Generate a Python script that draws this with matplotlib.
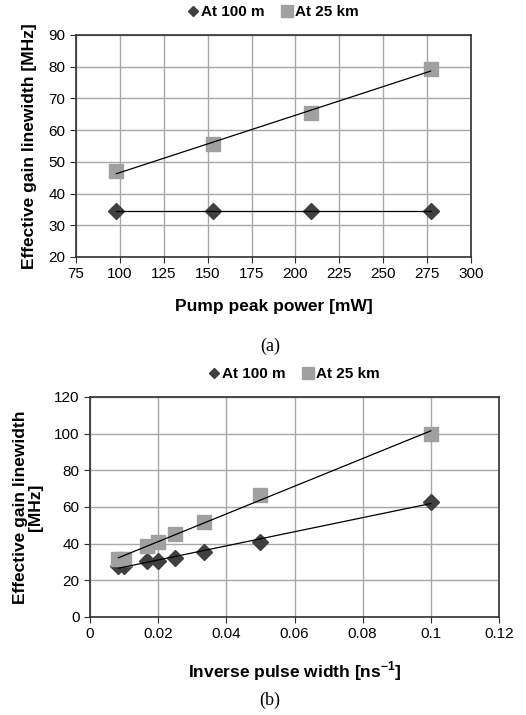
import numpy as np
import matplotlib
matplotlib.use('Agg')
import matplotlib.pyplot as plt

plt.rcParams['font.family'] = ['Liberation Sans', 'DejaVu Sans']
plt.rcParams['mathtext.fontset'] = 'custom'
plt.rcParams['mathtext.bf'] = 'Liberation Sans:bold'
plt.rcParams['mathtext.rm'] = 'Liberation Sans'

# (a) pump peak power
power_mw = [98, 153, 209, 277]
a_100m = [34.5, 34.5, 34.5, 34.5]
a_25km = [47, 55.7, 65.3, 79.4]

# (b) inverse pulse width
inv_width = [1/120, 1/100, 1/60, 1/50, 1/40, 1/30, 1/20, 1/10]
b_100m = [28, 27.8, 30.5, 30.8, 32, 35.5, 41, 63]
b_25km = [31.5, 31.5, 39, 41, 45.5, 52, 66.5, 100]

dark = '#404040'
light = '#a0a0a0'

fig = plt.figure(figsize=(5.26, 7.15), dpi=100)
W, H = 526, 715

def box(l, t, r, b):
    return [l / W, 1 - b / H, (r - l) / W, (b - t) / H]

def style(ax):
    ax.grid(True, color='#a8a8a8', linewidth=1)
    ax.set_axisbelow(True)
    for s in ax.spines.values():
        s.set_color('#303030')
        s.set_linewidth(1.2)
    ax.tick_params(labelsize=11, length=4, color='#303030', direction='out')

def trend(ax, x, y):
    k, c = np.polyfit(x, y, 1)
    xs = np.array([min(x), max(x)])
    ax.plot(xs, k * xs + c, color='black', linewidth=0.9, zorder=4)

def legend(ax):
    h1 = plt.Line2D([], [], marker='D', color=dark, linestyle='none', markersize=5)
    h2 = plt.Line2D([], [], marker='s', color=light, linestyle='none', markersize=9)
    ax.legend([h1, h2], ['At 100 m', 'At 25 km'], loc='lower center',
              bbox_to_anchor=(0.5, 1.01), ncol=2, frameon=False, handlelength=0.6,
              handletextpad=0.2, columnspacing=1.2, prop={'weight': 'bold', 'size': 11})

# ---- (a)
ax1 = fig.add_axes(box(76, 35, 471, 257))
style(ax1)
ax1.plot(power_mw, a_100m, marker='D', color=dark, markersize=8, linestyle='none', zorder=3)
ax1.plot(power_mw, a_25km, marker='s', color=light, markersize=10, linestyle='none', zorder=3)
trend(ax1, power_mw, a_100m)
trend(ax1, power_mw, a_25km)
ax1.set_xlim(75, 300)
ax1.set_ylim(20, 90)
ax1.set_xticks(range(75, 301, 25))
ax1.set_yticks(range(20, 91, 10))
ax1.set_xlabel('Pump peak power [mW]', fontsize=12.5, fontweight='bold', labelpad=13)
ax1.set_ylabel('Effective gain linewidth [MHz]', fontsize=12.5, fontweight='bold', labelpad=8)
legend(ax1)
fig.text(270 / W, 1 - 346 / H, '(a)', ha='center', va='center', fontsize=13,
         family='Liberation Serif')

# ---- (b)
ax2 = fig.add_axes(box(90, 397, 499, 617))
style(ax2)
ax2.plot(inv_width, b_100m, marker='D', color=dark, markersize=8, linestyle='none', zorder=3)
ax2.plot(inv_width, b_25km, marker='s', color=light, markersize=10, linestyle='none', zorder=3)
trend(ax2, inv_width, b_100m)
trend(ax2, inv_width, b_25km)
ax2.set_xlim(0, 0.12)
ax2.set_ylim(0, 120)
ax2.set_xticks([0, 0.02, 0.04, 0.06, 0.08, 0.1, 0.12])
ax2.set_xticklabels(['0', '0.02', '0.04', '0.06', '0.08', '0.1', '0.12'])
ax2.set_yticks(range(0, 121, 20))
ax2.set_xlabel('Inverse pulse width [ns$^{\\mathbf{-1}}$]', fontsize=12.5, fontweight='bold', labelpad=13)
ax2.set_ylabel('Effective gain linewidth\n[MHz]', fontsize=12.5, fontweight='bold', labelpad=8,
               linespacing=1.0)
legend(ax2)
fig.text(270 / W, 1 - 700 / H, '(b)', ha='center', va='center', fontsize=13,
         family='Liberation Serif')

fig.savefig('out.png', dpi=100, facecolor='white')
